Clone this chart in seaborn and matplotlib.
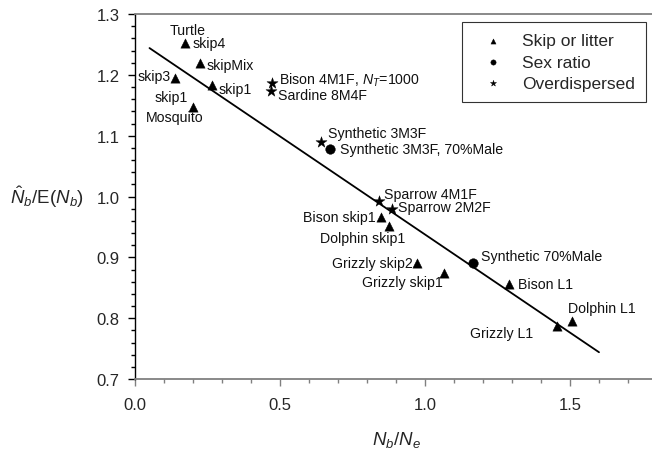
import numpy as np
import pandas as pd
import matplotlib
matplotlib.use("Agg")
import matplotlib.pyplot as plt
import seaborn as sns

# ---------------- data ----------------
labels = ["Turtle skip4", "skipMix", "skip3", "skip1 (a)", "Mosquito skip1",
          "Bison 4M1F", "Sardine 8M4F", "Synthetic 3M3F", "Synthetic 3M3F, 70%Male",
          "Sparrow 4M1F", "Sparrow 2M2F", "Bison skip1", "Dolphin skip1",
          "Grizzly skip2", "Grizzly skip1", "Synthetic 70%Male", "Bison L1",
          "Grizzly L1", "Dolphin L1"]
nb_ne = [0.172, 0.224, 0.138, 0.264, 0.199,
         0.473, 0.468, 0.640, 0.672,
         0.842, 0.885, 0.847, 0.877,
         0.971, 1.067, 1.164, 1.291,
         1.454, 1.508]
nb_ratio = [1.252, 1.219, 1.195, 1.183, 1.147,
            1.187, 1.174, 1.089, 1.078,
            0.993, 0.980, 0.967, 0.952,
            0.891, 0.874, 0.891, 0.856,
            0.787, 0.796]
groups = ["Skip or litter", "Skip or litter", "Skip or litter", "Skip or litter", "Skip or litter",
          "Overdispersed", "Overdispersed", "Overdispersed", "Sex ratio",
          "Overdispersed", "Overdispersed", "Skip or litter", "Skip or litter",
          "Skip or litter", "Skip or litter", "Sex ratio", "Skip or litter",
          "Skip or litter", "Skip or litter"]
group_order = ["Skip or litter", "Sex ratio", "Overdispersed"]
line_x = [0.05, 1.60]
line_y = [1.244, 0.744]
x_ticks = [0.0, 0.5, 1.0, 1.5]
y_ticks = [0.7, 0.8, 0.9, 1.0, 1.1, 1.2, 1.3]

# annotation texts attached to each point (text, dx px, dy px (down +), ha)
annots = {
    0: [("Turtle", 3, -13, "center"), ("skip4", 7.7, 0, "left")],
    1: [("skipMix", 6.7, 2, "left")],
    2: [("skip3", -4, -2, "right")],
    3: [("skip1", 7.3, 4, "left")],
    4: [("skip1", -5.0, -10, "right"), ("Mosquito", -18, 9.5, "center")],
    5: [(r"Bison 4M1F, $N_T$=1000", 6.7, -3.3, "left")],
    6: [("Sardine 8M4F", 7.6, 4.3, "left")],
    7: [("Synthetic 3M3F", 7.6, -9, "left")],
    8: [("Synthetic 3M3F, 70%Male", 10, 0, "left")],
    9: [("Sparrow 4M1F", 5, -7, "left")],
    10: [("Sparrow 2M2F", 6.6, -1.5, "left")],
    11: [("Bison skip1", -4.7, 0, "right")],
    12: [("Dolphin skip1", -26.8, 12.3, "center")],
    13: [("Grizzly skip2", -3.4, 0, "right")],
    14: [("Grizzly skip1", -1.6, 9.3, "right")],
    15: [("Synthetic 70%Male", 8.3, -7.3, "left")],
    16: [("Bison L1", 8.4, 0, "left")],
    17: [("Grizzly L1", -23.4, 6.6, "right")],
    18: [("Dolphin L1", -4, -12.4, "left")],
}

df = pd.DataFrame({"x": nb_ne, "y": nb_ratio, "type": groups})

# ---------------- style ----------------
sns.set_style("ticks")
plt.rcParams["font.family"] = ["Liberation Sans", "DejaVu Sans"]
plt.rcParams["mathtext.fontset"] = "custom"
plt.rcParams["mathtext.rm"] = "Liberation Sans"
plt.rcParams["mathtext.it"] = "Liberation Sans:italic"
plt.rcParams["mathtext.bf"] = "Liberation Sans:bold"

DPI = 100
fig = plt.figure(figsize=(6.52, 4.56), dpi=DPI)
W, H = 652, 456
ax_left, ax_right_px, ax_top, ax_bot = 135, 657, 15, 380
ax = fig.add_axes([ax_left / W, 1 - ax_bot / H, (ax_right_px - ax_left) / W, (ax_bot - ax_top) / H])

markers = {"Skip or litter": "^", "Sex ratio": "o", "Overdispersed": "*"}
sizes = {"Skip or litter": 45, "Sex ratio": 48, "Overdispersed": 70}
for g in group_order:
    sub = df[df["type"] == g]
    sns.scatterplot(data=sub, x="x", y="y", marker=markers[g], s=sizes[g],
                    color="black", edgecolor="black", linewidth=0.3, ax=ax,
                    label=g, zorder=3)

ax.plot(line_x, line_y, color="black", lw=1.3, zorder=2)

px2pt = 72 / DPI
for i, items in annots.items():
    for txt, dx, dy, ha in items:
        ax.annotate(txt, (nb_ne[i], nb_ratio[i]), xytext=(dx * px2pt, -dy * px2pt),
                    textcoords="offset points", ha=ha, va="center", fontsize=10.2,
                    color="#111111")

ax.set_xlim(0, 1.8)
ax.set_ylim(0.7, 1.3)
ax.set_xticks(x_ticks)
ax.set_xticklabels([f"{v:.1f}" for v in x_ticks], fontsize=12)
ax.set_yticks(y_ticks)
ax.set_yticklabels([f"{v:.1f}" for v in y_ticks], fontsize=12)
ax.set_xticks(np.arange(0, 1.81, 0.1), minor=True)
ax.set_yticks(np.arange(0.7, 1.301, 0.02), minor=True)

ax.tick_params(axis="x", which="major", direction="out", length=5, width=1, color="#808080", pad=8)
ax.tick_params(axis="x", which="minor", direction="out", length=3, width=1, color="#808080")
ax.tick_params(axis="y", which="major", direction="out", length=5, width=1, color="black", pad=6)
ax.tick_params(axis="y", which="minor", direction="out", length=3, width=1, color="black")

for s in ["top", "bottom"]:
    ax.spines[s].set_color("#808080")
    ax.spines[s].set_linewidth(1.3)
ax.spines["left"].set_color("black")
ax.spines["left"].set_linewidth(1.0)
ax.spines["right"].set_visible(False)

ax.set_xlabel(r"$N_b$/$N_e$", fontsize=13.5)
ax.xaxis.set_label_coords(0.5, -0.165)
ax.xaxis.label.set_va("center")
ax.set_ylabel(r"$\hat{N}_b$/E($N_b$)", fontsize=13.5, rotation=0)
ax.yaxis.set_label_coords(-0.169, 0.501)
ax.yaxis.label.set_va("center")
ax.yaxis.label.set_ha("center")

leg = ax.legend(loc="upper left", bbox_to_anchor=((462 - ax_left) / (ax_right_px - ax_left), (ax_bot - 23) / (ax_bot - ax_top)),
                fontsize=12.5, frameon=True, fancybox=False, edgecolor="black",
                markerscale=0.55, labelspacing=0.35, handlelength=2.27, handletextpad=0.53,
                borderpad=0.65, borderaxespad=0)
leg.get_frame().set_linewidth(0.8)

fig.savefig("out.png", dpi=DPI)
